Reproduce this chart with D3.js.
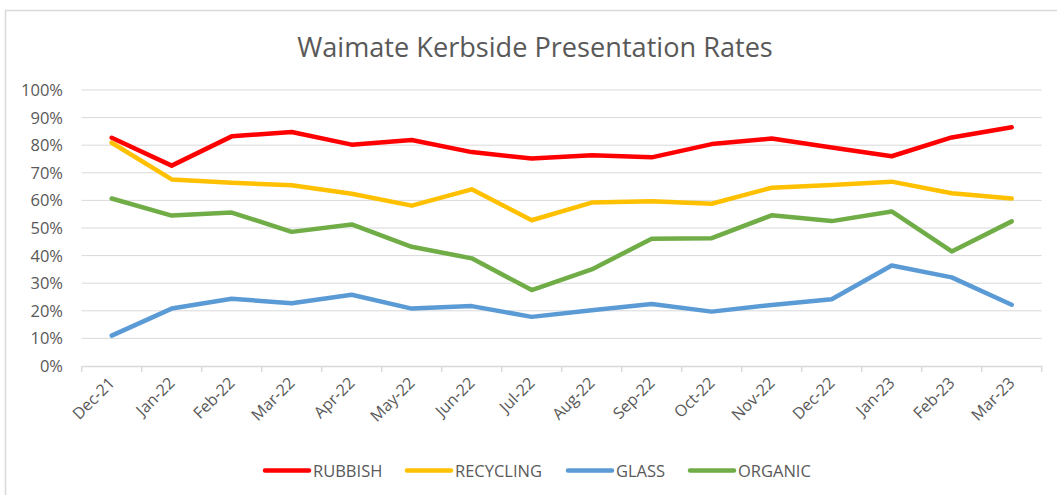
<!DOCTYPE html>
<html>
<head>
<meta charset="utf-8">
<script src="https://cdn.jsdelivr.net/npm/d3@7"></script>
<style>
  body { margin: 0; background: #fff; }
  text { font-family: "Open Sans", "Liberation Sans", sans-serif; fill: #595959; }
</style>
</head>
<body>
<svg width="1057" height="495"></svg>
<script>
const months = ["Dec-21","Jan-22","Feb-22","Mar-22","Apr-22","May-22","Jun-22","Jul-22",
                "Aug-22","Sep-22","Oct-22","Nov-22","Dec-22","Jan-23","Feb-23","Mar-23"]
const rubbish   = [82.7,72.6,83.2,84.8,80.2,81.9,77.5,75.2,76.4,75.6,80.4,82.4,79.2,76.0,82.8,86.5]
const recycling = [80.9,67.6,66.4,65.5,62.4,58.1,64.0,52.8,59.2,59.7,58.8,64.6,65.6,66.8,62.6,60.7]
const glass     = [11.0,20.8,24.4,22.7,25.8,20.8,21.7,17.8,20.2,22.5,19.7,22.1,24.2,36.4,32.1,22.2]
const organic   = [60.7,54.5,55.6,48.6,51.3,43.2,39.0,27.5,35.0,46.1,46.3,54.6,52.5,56.0,41.5,52.4]
const seriesNames = ["RUBBISH","RECYCLING","GLASS","ORGANIC"]
const seriesColors = ["#ff0000","#ffc000","#5b9bd5","#70ad47"]
const yTicks = [0,10,20,30,40,50,60,70,80,90,100]

const svg = d3.select("svg")
const plotLeft = 81.7, plotRight = 1041.7, plotTop = 90, plotBottom = 366

// chart border
svg.append("path")
  .attr("d", "M5.5,495 V10.5 H1057")
  .attr("fill", "none").attr("stroke", "#d9d9d9").attr("stroke-width", 1.5)

// title, sized to the reference width
const title = svg.append("text")
  .attr("x", 535).attr("y", 57).attr("text-anchor", "middle")
  .attr("font-size", 24).text("Waimate Kerbside Presentation Rates")
const tw = title.node().getComputedTextLength()
title.attr("font-size", 24 * 476 / tw)

const x = d3.scaleBand().domain(months).range([plotLeft, plotRight])
const y = d3.scaleLinear().domain([0, 100]).range([plotBottom, plotTop])

// gridlines
svg.append("g").selectAll("line").data(yTicks.filter(d => d > 0)).join("line")
  .attr("x1", plotLeft).attr("x2", plotRight)
  .attr("y1", d => y(d)).attr("y2", d => y(d))
  .attr("stroke", "#d9d9d9").attr("stroke-width", 1)

// y axis labels
svg.append("g").selectAll("text").data(yTicks).join("text")
  .attr("x", 63).attr("y", d => y(d) + 6)
  .attr("text-anchor", "end").attr("font-size", 16.5)
  .text(d => d + "%")

// x axis
const xAxis = svg.append("g")
  .attr("transform", `translate(0,${plotBottom})`)
  .call(d3.axisBottom(x).tickSize(0).tickFormat(""))
xAxis.select(".domain").attr("stroke", "#d9d9d9").attr("stroke-width", 1.5)
const edges = months.map(m => x(m)).concat([plotRight])
xAxis.selectAll(".edge").data(edges).join("line")
  .attr("class", "edge")
  .attr("x1", d => d).attr("x2", d => d).attr("y1", 0).attr("y2", 6)
  .attr("stroke", "#d9d9d9").attr("stroke-width", 1.5)

svg.append("g").selectAll("text").data(months).join("text")
  .attr("transform", m => `translate(${x(m) + x.bandwidth() / 2 + 4},${plotBottom + 18}) rotate(-45)`)
  .attr("text-anchor", "end").attr("font-size", 16)
  .text(m => m)

// lines
const allSeries = [rubbish, recycling, glass, organic]
const line = d3.line()
  .x((d, i) => x(months[i]) + x.bandwidth() / 2)
  .y(d => y(d))
svg.append("g").selectAll("path").data(allSeries).join("path")
  .attr("d", line)
  .attr("fill", "none")
  .attr("stroke", (d, i) => seriesColors[i])
  .attr("stroke-width", 4.5)
  .attr("stroke-linecap", "round")
  .attr("stroke-linejoin", "round")

// legend
const legendX = [265, 407, 568, 690]
const lg = svg.append("g").selectAll("g").data(seriesNames).join("g")
  .attr("transform", (d, i) => `translate(${legendX[i]},470.5)`)
lg.append("line")
  .attr("x1", 0).attr("x2", 44).attr("y1", 0).attr("y2", 0)
  .attr("stroke", (d, i) => seriesColors[i])
  .attr("stroke-width", 4.5).attr("stroke-linecap", "round")
lg.append("text")
  .attr("x", 48).attr("y", 6).attr("font-size", 16.5)
  .text(d => d)
</script>
</body>
</html>
